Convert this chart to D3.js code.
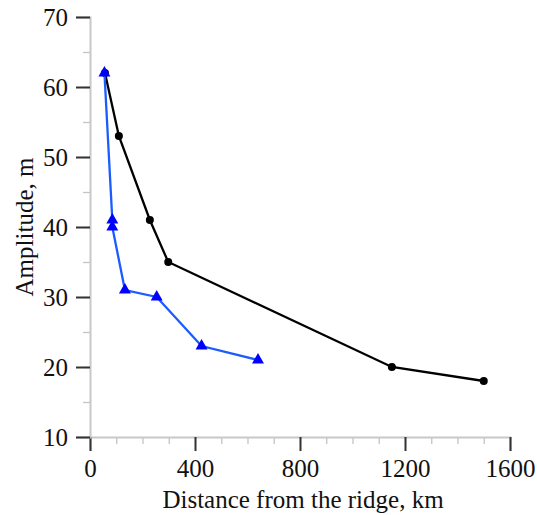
<!DOCTYPE html>
<html>
<head>
<meta charset="utf-8">
<script src="https://cdn.jsdelivr.net/npm/d3@7"></script>
<style>
  body { margin: 0; background: #fff; }
  text { font-family: "Liberation Serif", "Times New Roman", serif; fill: #111; }
</style>
</head>
<body>
<svg id="chart" width="537" height="515"></svg>
<script>
// distance from the ridge (km) and amplitude (m)
var blackDist = [57, 110, 228, 298, 1150, 1500];
var blackAmp  = [62, 53, 41, 35, 20, 18];
var blueDist  = [55, 85, 85, 133, 254, 425, 640];
var blueAmp   = [62, 41, 40, 31, 30, 23, 21];
var xTicks = [0, 400, 800, 1200, 1600];
var yTicks = [10, 20, 30, 40, 50, 60, 70];

var svg = d3.select("#chart");
var mLeft = 90, mRight = 510, mTop = 17, mBottom = 437;

var x = d3.scaleLinear().domain([0, 1600]).range([mLeft, mRight]);
var y = d3.scaleLinear().domain([10, 70]).range([mBottom, mTop]);

// minor ticks first
var gxMinor = svg.append("g").attr("transform", "translate(0," + mBottom + ")")
    .call(d3.axisBottom(x).tickValues(d3.range(0, 1601, 100)).tickSize(7).tickFormat(""));
var gyMinor = svg.append("g").attr("transform", "translate(" + mLeft + ",0)")
    .call(d3.axisLeft(y).tickValues(d3.range(10, 71, 5)).tickSize(7).tickFormat(""));

var gx = svg.append("g").attr("transform", "translate(0," + mBottom + ")")
    .call(d3.axisBottom(x).tickValues(xTicks).tickSize(14).tickPadding(8).tickFormat(d3.format("d")));
var gy = svg.append("g").attr("transform", "translate(" + mLeft + ",0)")
    .call(d3.axisLeft(y).tickValues(yTicks).tickSize(14).tickPadding(8));

gxMinor.select(".domain").remove();
gyMinor.select(".domain").remove();
gxMinor.selectAll(".tick line").attr("stroke", "#c4c4c4").attr("stroke-width", 1.3);
gyMinor.selectAll(".tick line").attr("stroke", "#c4c4c4").attr("stroke-width", 1.3);

[gx, gy].forEach(function(g){
    g.select(".domain").attr("stroke", "#c8c8c8").attr("stroke-width", 2);
    g.selectAll(".tick line").attr("stroke", "#333").attr("stroke-width", 2);
    g.selectAll("text").attr("font-family", "Liberation Serif").attr("font-size", 25).attr("fill", "#111");
});

svg.append("text")
    .attr("x", (mLeft + mRight) / 2 + 3).attr("y", 508)
    .attr("text-anchor", "middle").attr("font-size", 25)
    .text("Distance from the ridge, km");

svg.append("text")
    .attr("transform", "translate(33," + ((mTop + mBottom) / 2) + ") rotate(-90)")
    .attr("text-anchor", "middle").attr("font-size", 25)
    .text("Amplitude, m");

var blackData = blackDist.map(function(d, i){ return [d, blackAmp[i]]; });
var blueData = blueDist.map(function(d, i){ return [d, blueAmp[i]]; });

var line = d3.line()
    .x(function(d){ return x(d[0]); })
    .y(function(d){ return y(d[1]); });

svg.append("path").datum(blackData)
    .attr("fill", "none").attr("stroke", "#000").attr("stroke-width", 2.3)
    .attr("d", line);
svg.append("g").selectAll("circle")
    .data(blackData)
    .enter().append("circle")
        .attr("cx", function(d){ return x(d[0]); })
        .attr("cy", function(d){ return y(d[1]); })
        .attr("r", 4)
        .attr("fill", "#000");

svg.append("path").datum(blueData)
    .attr("fill", "none").attr("stroke", "#1a5cff").attr("stroke-width", 2.3)
    .attr("d", line);
svg.append("g").selectAll("path")
    .data(blueData)
    .enter().append("path")
        .attr("d", d3.symbol().type(d3.symbolTriangle).size(62))
        .attr("transform", function(d){ return "translate(" + x(d[0]) + "," + y(d[1]) + ")"; })
        .attr("fill", "#0000ff");
</script>
</body>
</html>
